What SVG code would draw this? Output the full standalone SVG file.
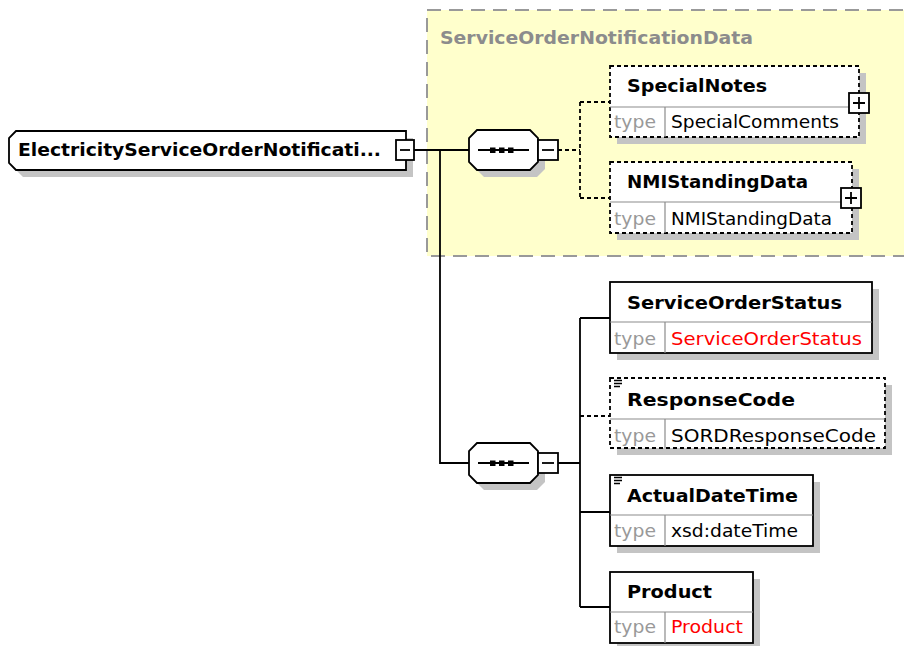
<svg xmlns="http://www.w3.org/2000/svg" width="904" height="646" viewBox="0 0 904 646">
<style>
.bg{fill:#ffffff}
.grp{fill:#ffffcc;stroke:#999999;stroke-width:2;stroke-dasharray:14 8}
.grpt{font-family:"DejaVu Sans",Verdana,sans-serif;font-weight:bold;font-size:17px;fill:#8c8c8c}
.sh{fill:#c4c4c4}
.box{fill:#ffffff;stroke:#000000;stroke-width:1.8}
.opt{stroke-dasharray:4 3}
.div{stroke:#8c8c8c;stroke-width:1.2;fill:none}
.name{font-family:"DejaVu Sans",Verdana,sans-serif;font-weight:bold;font-size:18px;fill:#000000}
.tlab{font-family:"DejaVu Sans",Verdana,sans-serif;font-size:18px;fill:#999999}
.tval{font-family:"DejaVu Sans",Verdana,sans-serif;font-size:18px;fill:#000000}
.red{fill:#ff0000}
.ln{stroke:#000000;stroke-width:1.8;fill:none}
.dl{stroke-dasharray:4 3}
.pm{fill:#ffffff;stroke:#000000;stroke-width:1.8}
.sym{stroke:#000000;stroke-width:1.8;fill:none}
.ico{stroke:#000000;stroke-width:1.4;fill:none}
.dot{fill:#000000}
</style>
<rect class="bg" x="0" y="0" width="904" height="646"/>

<g id="group-ServiceOrderNotificationData">
  <rect class="grp" x="427" y="10" width="480" height="246"/>
  <text class="grpt" x="440" y="44" textLength="313" lengthAdjust="spacingAndGlyphs">ServiceOrderNotificationData</text>
</g>

<g id="connectors">
  <path class="ln" d="M414 150 H469 M440 150 V463 H469"/>
  <path class="ln dl" d="M558 150 H580 M580 102 V198 M580 102 H610 M580 198 H610"/>
  <path class="ln" d="M558 463 H580 M580 318 V607 M580 318 H610 M580 512 H610 M580 607 H610"/>
  <path class="ln dl" d="M580 416 H610"/>
</g>

<g id="root-ElectricityServiceOrderNotification">
  <polygon class="sh" points="23,138 413,138 413,177 23,177 16,170 16,145"/>
  <polygon class="box" points="16,131 406,131 406,170 16,170 9,163 9,138"/>
  <text class="name" x="18" y="156" textLength="363" lengthAdjust="spacingAndGlyphs">ElectricityServiceOrderNotificati...</text>
  <rect class="pm" x="396" y="140" width="18" height="20"/>
  <path class="sym" d="M400 150 H410"/>
</g>

<g id="sequence-1">
  <polygon class="sh" points="484,137 537,137 545,145 545,169 537,177 484,177 476,169 476,145"/>
  <polygon class="box" points="477,130 530,130 538,138 538,162 530,170 477,170 469,162 469,138"/>
  <path class="sym" d="M478 150 H529"/>
  <rect class="dot" x="490" y="147.5" width="5.5" height="5.5"/>
  <rect class="dot" x="499" y="147.5" width="5.5" height="5.5"/>
  <rect class="dot" x="508" y="147.5" width="5.5" height="5.5"/>
  <rect class="pm" x="538" y="140" width="20" height="20"/>
  <path class="sym" d="M542 150 H554"/>
</g>

<g id="sequence-2">
  <polygon class="sh" points="484,450 537,450 545,458 545,482 537,490 484,490 476,482 476,458"/>
  <polygon class="box" points="477,443 530,443 538,451 538,475 530,483 477,483 469,475 469,451"/>
  <path class="sym" d="M478 463 H529"/>
  <rect class="dot" x="490" y="460.5" width="5.5" height="5.5"/>
  <rect class="dot" x="499" y="460.5" width="5.5" height="5.5"/>
  <rect class="dot" x="508" y="460.5" width="5.5" height="5.5"/>
  <rect class="pm" x="538" y="453" width="20" height="20"/>
  <path class="sym" d="M542 463 H554"/>
</g>

<g id="el-SpecialNotes">
  <rect class="sh" x="617" y="73" width="249" height="71"/>
  <rect class="box opt" x="610" y="66" width="249" height="71"/>
  <path class="div" d="M610 107 H859 M665 107 V137"/>
  <text class="name" x="627" y="92" textLength="140" lengthAdjust="spacingAndGlyphs">SpecialNotes</text>
  <text class="tlab" x="614" y="128" textLength="42" lengthAdjust="spacingAndGlyphs">type</text>
  <text class="tval" x="671" y="128" textLength="168" lengthAdjust="spacingAndGlyphs">SpecialComments</text>
  <rect class="pm" x="849" y="93" width="20" height="20"/>
  <path class="sym" d="M853 103 H865 M859 97 V109"/>
</g>

<g id="el-NMIStandingData">
  <rect class="sh" x="617" y="169" width="242" height="71"/>
  <rect class="box opt" x="610" y="162" width="242" height="71"/>
  <path class="div" d="M610 202 H852 M665 202 V233"/>
  <text class="name" x="627" y="188" textLength="181" lengthAdjust="spacingAndGlyphs">NMIStandingData</text>
  <text class="tlab" x="614" y="225" textLength="42" lengthAdjust="spacingAndGlyphs">type</text>
  <text class="tval" x="671" y="225" textLength="161" lengthAdjust="spacingAndGlyphs">NMIStandingData</text>
  <rect class="pm" x="841" y="188" width="20" height="20"/>
  <path class="sym" d="M845 198 H857 M851 192 V204"/>
</g>

<g id="el-ServiceOrderStatus">
  <rect class="sh" x="617" y="289" width="262" height="71"/>
  <rect class="box" x="610" y="282" width="262" height="71"/>
  <path class="div" d="M610 322 H872 M665 322 V353"/>
  <text class="name" x="627" y="309" textLength="215" lengthAdjust="spacingAndGlyphs">ServiceOrderStatus</text>
  <text class="tlab" x="614" y="345" textLength="42" lengthAdjust="spacingAndGlyphs">type</text>
  <text class="tval red" x="671" y="345" textLength="191" lengthAdjust="spacingAndGlyphs">ServiceOrderStatus</text>
</g>

<g id="el-ResponseCode">
  <rect class="sh" x="617" y="385" width="275" height="70"/>
  <rect class="box opt" x="610" y="378" width="275" height="70"/>
  <path class="div" d="M610 419 H885 M665 419 V448"/>
  <path class="ico" d="M614 380.5 H622 M614 383.5 H622 M614 386.5 H620"/>
  <text class="name" x="627" y="406" textLength="168" lengthAdjust="spacingAndGlyphs">ResponseCode</text>
  <text class="tlab" x="614" y="442" textLength="42" lengthAdjust="spacingAndGlyphs">type</text>
  <text class="tval" x="671" y="442" textLength="205" lengthAdjust="spacingAndGlyphs">SORDResponseCode</text>
</g>

<g id="el-ActualDateTime">
  <rect class="sh" x="617" y="482" width="203" height="71"/>
  <rect class="box" x="610" y="475" width="203" height="71"/>
  <path class="div" d="M610 515 H813 M665 515 V546"/>
  <path class="ico" d="M614 477.5 H622 M614 480.5 H622 M614 483.5 H620"/>
  <text class="name" x="627" y="502" textLength="171" lengthAdjust="spacingAndGlyphs">ActualDateTime</text>
  <text class="tlab" x="614" y="537" textLength="42" lengthAdjust="spacingAndGlyphs">type</text>
  <text class="tval" x="671" y="537" textLength="127" lengthAdjust="spacingAndGlyphs">xsd:dateTime</text>
</g>

<g id="el-Product">
  <rect class="sh" x="617" y="579" width="143" height="71"/>
  <rect class="box" x="610" y="572" width="143" height="71"/>
  <path class="div" d="M610 612 H753 M665 612 V643"/>
  <text class="name" x="627" y="598" textLength="85" lengthAdjust="spacingAndGlyphs">Product</text>
  <text class="tlab" x="614" y="633" textLength="42" lengthAdjust="spacingAndGlyphs">type</text>
  <text class="tval red" x="671" y="633" textLength="72" lengthAdjust="spacingAndGlyphs">Product</text>
</g>
</svg>
